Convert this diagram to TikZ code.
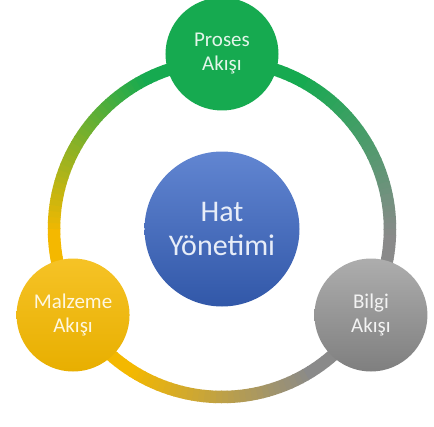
\documentclass[tikz,border=0pt]{standalone}
\usepackage{fontspec}
\setmainfont{Carlito}
\usepackage{tikz}

\definecolor{prosesgreen}{HTML}{16AA50}
\definecolor{bilgigray}{HTML}{8A8A8A}
\definecolor{malzemeyellow}{HTML}{F4B800}
\definecolor{hatblue}{HTML}{3A67C6}

\begin{document}
\begin{tikzpicture}[x=1pt, y=1pt,
    every node/.style={circle, align=center, inner sep=0pt},
    flow/.style={minimum size=113pt, font=\fontsize{21}{24}\selectfont},
    hub/.style={minimum size=155pt, font=\fontsize{30}{34}\selectfont,
        top color=hatblue!80!white, bottom color=hatblue!85!black, text=white!88!hatblue},
    ring/.style={line width=12.5pt}]
    \useasboundingbox (-222,229) rectangle (212,-197);
    % ring with colour running from node to node
    \foreach \from/\cfrom/\cto in {90/prosesgreen/bilgigray, -30/bilgigray/malzemeyellow, -150/malzemeyellow/prosesgreen}{
        \foreach \i in {0,...,59}{
            \pgfmathsetmacro{\a}{\from-2*\i}
            \pgfmathtruncatemacro{\p}{max(0,min(100,100-100*(\i-14)/32))}
            \draw[ring, draw=\cfrom!\p!\cto] (\a:168) arc[start angle=\a, end angle=\a-2.3, radius=168];
        }
    }
    \node[hub] (hat) at (0,0) {Hat\\Yönetimi};
    \node[flow, fill=prosesgreen, text=white!88!prosesgreen] (proses) at (90:175) {Proses\\Akışı};
    \node[flow, top color=bilgigray!70!white, bottom color=bilgigray!92!black, text=white!90!bilgigray] (bilgi) at (330:172) {Bilgi\\Akışı};
    \node[flow, top color=malzemeyellow!85!white, bottom color=malzemeyellow!95!black, text=white!88!malzemeyellow] (malzeme) at (210:172) {Malzeme\\Akışı};
\end{tikzpicture}
\end{document}
